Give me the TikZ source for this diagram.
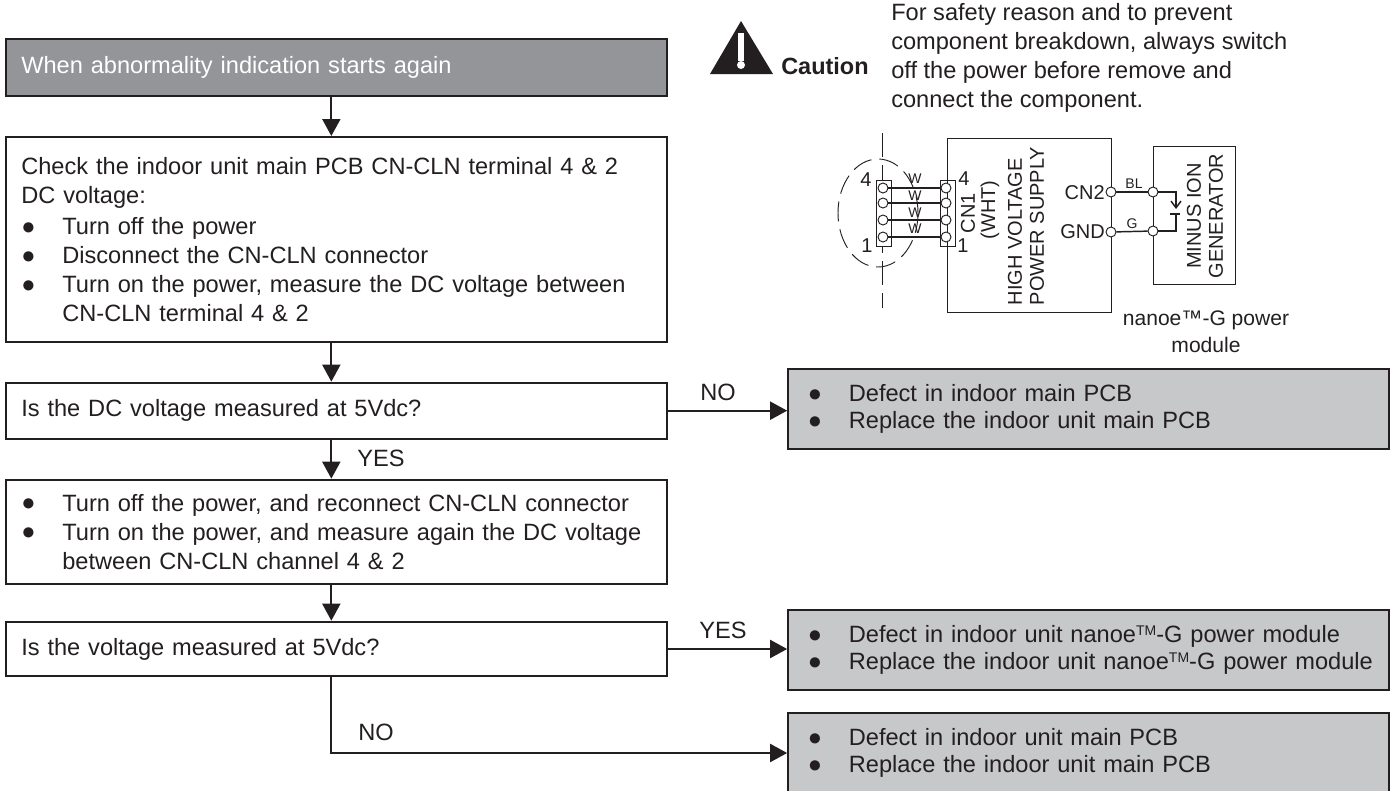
\documentclass[tikz,border=0pt]{standalone}
\usepackage{fontspec}
\setmainfont{Liberation Sans}
\usetikzlibrary{arrows.meta, positioning}
\definecolor{ink}{HTML}{231F20}
\definecolor{darkgrey}{HTML}{939598}
\definecolor{lightgrey}{HTML}{C7C8CA}
\newcommand{\blt}[1]{\mbox{\makebox[30.75pt][l]{\raisebox{0.3pt}{●}}#1}}
\newcommand{\tmark}{\raisebox{5.5pt}{\fontsize{10.5}{10.5}\selectfont TM}}
\begin{document}
\begin{tikzpicture}[x=0.75pt, y=-0.75pt, every node/.style={text=ink},
        txt/.style={font=\fontsize{17.7}{21.75}\selectfont},
        b/.style={rectangle, draw=ink, line width=1.5pt, txt, align=left, text width=473pt,
                  inner xsep=11pt, inner ysep=0pt, minimum width=496pt},
        g/.style={b, fill=lightgrey, text width=421pt, minimum width=450.5pt, minimum height=60pt,
                  inner xsep=14.5pt},
        arr/.style={-{Triangle[length=12.75pt,width=13.5pt]}, line width=1.5pt, ink},
        wire/.style={line width=1.1pt, ink},
        thin/.style={draw=ink, line width=0.7pt},
        pin/.style={circle, thin, fill=white, minimum size=7.5pt, inner sep=0pt},
        lbl/.style={font=\fontsize{15}{16.5}\selectfont, inner sep=0pt},
        tiny/.style={font=\fontsize{10.5}{12}\selectfont, inner sep=0pt},
        node distance=29.25pt]
      \useasboundingbox (0,0) rectangle (1397,790);
      % flow column
      \node[b, fill=darkgrey, minimum height=42.75pt, anchor=north west, text=white] (start) at (5,38) {When abnormality indication starts again};
      \node[b, below=of start, minimum height=154pt] (check) {Check the indoor unit main PCB CN-CLN terminal 4 \& 2\\
        DC voltage:\\[2pt]
        \blt{Turn off the power}\\
        \blt{Disconnect the CN-CLN connector}\\
        \blt{Turn on the power, measure the DC voltage between}\\
        \hspace*{30.75pt}CN-CLN terminal 4 \& 2};
      \node[b, below=28.75pt of check, minimum height=42pt] (dcq) {Is the DC voltage measured at 5Vdc?};
      \node[b, below=of dcq, minimum height=78pt] (recon) {\blt{Turn off the power, and reconnect CN-CLN connector}\\
        \blt{Turn on the power, and measure again the DC voltage}\\
        \hspace*{30.75pt}between CN-CLN channel 4 \& 2};
      \node[b, below=27pt of recon, minimum height=41pt] (vq) {Is the voltage measured at 5Vdc?};
      % result boxes
      \node[g] (mainpcb) at (1088.5,409) {\blt{Defect in indoor main PCB}\\[-1.5pt]\blt{Replace the indoor unit main PCB}};
      \node[g] (module) at (1088.5,650) {\blt{Defect in indoor unit nanoe\tmark-G power module}\\[-1.5pt]\blt{Replace the indoor unit nanoe\tmark-G power module}};
      \node[g] (mainpcbb) at (1088.5,753) {\blt{Defect in indoor unit main PCB}\\[-1.5pt]\blt{Replace the indoor unit main PCB}};
      % flow arrows
      \draw[arr] ([xshift=-4pt]start.south) -- ([xshift=-4pt]check.north);
      \draw[arr] ([xshift=-4pt]check.south) -- ([xshift=-4pt]dcq.north);
      \draw[arr] ([xshift=-4pt]dcq.south) -- ([xshift=-4pt]recon.north);
      \draw[arr] ([xshift=-4pt]recon.south) -- ([xshift=-4pt]vq.north);
      \draw[arr] (dcq.east) -- (dcq.east -| mainpcb.west);
      \draw[arr] (vq.east) -- (vq.east -| module.west);
      \draw[arr] ([xshift=-4pt]vq.south) |- (mainpcbb.west);
      \node[txt, inner sep=0pt] (no) at (718,392) {NO};
      \node[txt, inner sep=0pt] (yes) at (381,458) {YES};
      \node[txt, inner sep=0pt] (yesb) at (723,630) {YES};
      \node[txt, inner sep=0pt] (nob) at (376,732) {NO};
      % caution
      \fill[ink] (741,21) -- (773,74) -- (710,74) -- cycle;
      \fill[white] (738,33) rectangle (744,61);
      \fill[white] (741,65) circle (4);
      \node[font=\fontsize{17.6}{20}\selectfont\bfseries, anchor=base west, inner sep=0pt] (caution) at (781,74) {Caution};
      \node[txt, anchor=base west, align=left, inner sep=0pt] (warn) at (891,107) {For safety reason and to prevent\\
        component breakdown, always switch\\off the power before remove and\\connect the component.};
      % wiring diagram
      \draw[thin, dash pattern=on 18pt off 6pt] (882,133) -- (882,308);
      \draw[thin, dash pattern=on 15pt off 6pt] (878,213) ellipse (40 and 54);
      \node[thin, fill=white, minimum width=11.25pt, minimum height=49.5pt, inner sep=0pt] (plug) at (883.5,213) {};
      \node[thin, fill=white, minimum width=11.25pt, minimum height=49.5pt, inner sep=0pt] (cn1) at (947.5,213) {};
      \node[thin, minimum width=123pt, minimum height=130.5pt] (hv) at (1029,225) {};
      \node[thin, minimum width=62pt, minimum height=104pt] (gen) at (1194.5,215.5) {};
      \foreach \n/\y/\t in {a/188/179, b/203/196, c/220/213, d/237/229} {
        \node[pin] (p\n) at (883,\y) {};
        \node[pin] (q\n) at (946,\y) {};
        \draw[wire] (p\n) -- (q\n);
        \node[tiny] (w\n) at (915,\t) {W};
      }
      \node[lbl] (lfour) at (866,180) {4};
      \node[lbl] (lone) at (867,246) {1};
      \node[lbl] (rfour) at (964,179) {4};
      \node[lbl] (rone) at (963,246) {1};
      \node[lbl, rotate=90] (cnone) at (968,213) {CN1};
      \node[lbl, rotate=90] (wht) at (990,210) {(WHT)};
      \node[lbl, rotate=90, align=left] (hvtxt) at (1026,226) {HIGH VOLTAGE\\POWER SUPPLY};
      \node[lbl, rotate=90, align=center] (gentxt) at (1205,216) {MINUS ION\\GENERATOR};
      \node[pin] (cntwo) at (1111,192) {};
      \node[pin] (gnd) at (1111,232) {};
      \node[pin] (ina) at (1153,192) {};
      \node[pin] (inb) at (1153,231) {};
      \draw[wire] (cntwo) -- (ina);
      \draw[wire] (gnd) -- (inb);
      \node[lbl, anchor=east] (cntxt) at (1105,193) {CN2};
      \node[lbl, anchor=east] (gndtxt) at (1105,232) {GND};
      \node[tiny] (bl) at (1134,184) {BL};
      \node[tiny] (gg) at (1132,224) {G};
      \coordinate (tip) at (1176,209);
      \coordinate (bara) at (1170,214);
      \coordinate (barb) at (1180,214);
      \coordinate (barm) at (1176,214);
      \draw[wire, -{Straight Barb[length=5pt,width=7.5pt]}] (ina) -| (tip);
      \draw[wire] (bara) -- (barb);
      \draw[wire] (inb) -| (barm);
      \node[font=\fontsize{15.8}{18}\selectfont, inner sep=0pt, align=center] (power) at (1206,332) {nanoe™-G power\\[2pt]module};
    \end{tikzpicture}
\end{document}
